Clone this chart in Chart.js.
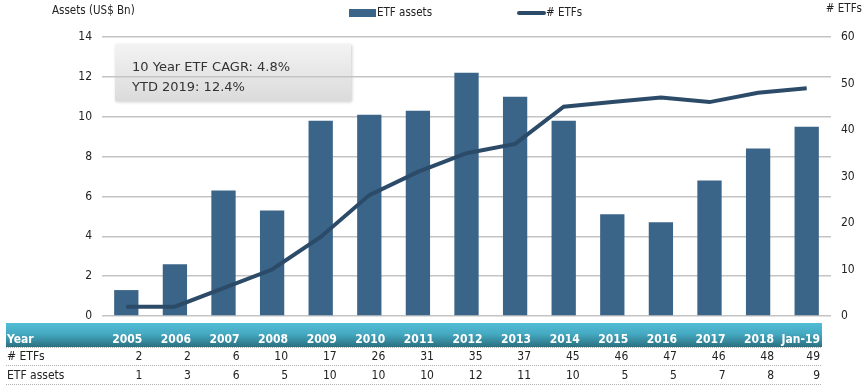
<!DOCTYPE html>
<html>
<head>
<meta charset="utf-8">
<script src="https://cdn.jsdelivr.net/npm/chart.js@4/dist/chart.umd.min.js"></script>
<style>
html,body{margin:0;padding:0;background:#fff;}
#wrap{position:relative;width:863px;height:388px;}
</style>
</head>
<body>
<div id="wrap"><canvas id="c" width="863" height="388"></canvas></div>
<script>
const years = ['2005','2006','2007','2008','2009','2010','2011','2012','2013','2014','2015','2016','2017','2018','Jan-19'];
const etfAssets = [1.3,2.6,6.3,5.3,9.8,10.1,10.3,12.2,11.0,9.8,5.1,4.7,6.8,8.4,9.5];
const numEtfs = [2,2,6,10,17,26,31,35,37,45,46,47,46,48,49];
const assetsTableRow = [1,3,6,5,10,10,10,12,11,10,5,5,7,8,9];
const annotationLines = ['10 Year ETF CAGR: 4.8%','YTD 2019: 12.4%'];
const leftAxisTitle = 'Assets (US$ Bn)';
const rightAxisTitle = '# ETFs';

const FONT = '"DejaVu Sans Condensed","DejaVu Sans",sans-serif';
const FONT_WIDE = '"DejaVu Sans",sans-serif';
const BAR = '#3a6488';
const LINE = '#2c4b69';

const decor = {
  id:'decor',
  beforeDraw(chart){
    const ctx = chart.ctx;
    ctx.save();
    const bx=115, by=44, bw=236, bh=57;
    ctx.shadowColor='rgba(0,0,0,0.2)'; ctx.shadowBlur=3; ctx.shadowOffsetX=1; ctx.shadowOffsetY=1;
    const g = ctx.createLinearGradient(0,by,0,by+bh);
    g.addColorStop(0,'#f3f3f3'); g.addColorStop(1,'#dbdbdb');
    ctx.fillStyle=g; ctx.fillRect(bx,by,bw,bh);
    ctx.restore();
    ctx.save();
    ctx.fillStyle='#333'; ctx.font='13px '+FONT_WIDE; ctx.textBaseline='middle'; ctx.textAlign='left';
    ctx.fillText(annotationLines[0],132,68);
    ctx.fillText(annotationLines[1],132,88);
    ctx.restore();
  },
  afterDraw(chart){
    const ctx = chart.ctx;
    const xs = chart.scales.x;
    ctx.save();
    ctx.fillStyle='#222'; ctx.font='11.5px '+FONT; ctx.textBaseline='middle';
    ctx.textAlign='left'; ctx.fillText(leftAxisTitle,52,11);
    ctx.textAlign='right'; ctx.fillText(rightAxisTitle,862,9);
    ctx.font='11.5px '+FONT;
    ctx.fillStyle=BAR; ctx.fillRect(349,9,27,8);
    ctx.fillStyle='#222'; ctx.textAlign='left';
    ctx.fillText('ETF assets',377,13);
    ctx.strokeStyle=LINE; ctx.lineWidth=4; ctx.lineCap='round';
    ctx.beginPath(); ctx.moveTo(519,13); ctx.lineTo(544,13); ctx.stroke();
    ctx.fillText('# ETFs',546,13);
    const tx0=6, tx1=822;
    const hg = ctx.createLinearGradient(0,323,0,347);
    hg.addColorStop(0,'#52bdd6'); hg.addColorStop(0.45,'#45aac2'); hg.addColorStop(1,'#2b6f80');
    ctx.fillStyle=hg; ctx.fillRect(tx0,323,tx1-tx0,24);
    ctx.font='bold 12px '+FONT; ctx.fillStyle='#fff'; ctx.textAlign='left';
    ctx.fillText('Year',7,340);
    ctx.textAlign='right';
    years.forEach((y,i)=>{ const cx = xs.getPixelForValue(i); ctx.fillText(y, Math.min(cx+16,820), 340); });
    ctx.font='12px '+FONT; ctx.fillStyle='#222';
    ctx.textAlign='left';
    ctx.fillText('# ETFs',7,357);
    ctx.fillText('ETF assets',7,376);
    ctx.textAlign='right';
    numEtfs.forEach((v,i)=>{ const cx = xs.getPixelForValue(i); ctx.fillText(String(v), Math.min(cx+16,820), 357); });
    assetsTableRow.forEach((v,i)=>{ const cx = xs.getPixelForValue(i); ctx.fillText(String(v), Math.min(cx+16,820), 376); });
    ctx.strokeStyle='#b0b0b0'; ctx.lineWidth=1; ctx.setLineDash([1,1]); ctx.lineCap='butt';
    [347.5,365.5,384.5].forEach(y=>{ ctx.beginPath(); ctx.moveTo(tx0,y); ctx.lineTo(tx1,y); ctx.stroke(); });
    ctx.restore();
  }
};

new Chart(document.getElementById('c'), {
  data:{
    labels: years,
    datasets:[
      {type:'line', label:'# ETFs', data:numEtfs, yAxisID:'y1', borderColor:LINE, borderWidth:4, pointRadius:0, tension:0, order:0},
      {type:'bar', label:'ETF assets', data:etfAssets, yAxisID:'y', backgroundColor:BAR, categoryPercentage:1, barPercentage:0.5, order:1}
    ]
  },
  options:{
    responsive:false, animation:false,
    layout:{padding:{top:37,bottom:72,left:0,right:0}},
    plugins:{legend:{display:false}, tooltip:{enabled:false}},
    scales:{
      x:{display:false, offset:true},
      y:{position:'left', min:0, max:14, ticks:{stepSize:2, color:'#222', font:{family:FONT,size:12}, padding:10},
         grid:{color:'#c4c4c4', lineWidth:1.5, drawTicks:false}, border:{display:false},
         afterFit(s){ s.width=102; }},
      y1:{position:'right', min:0, max:60, ticks:{stepSize:10, color:'#222', font:{family:FONT,size:12}, padding:10},
         grid:{display:false, drawTicks:false}, border:{display:false},
         afterFit(s){ s.width=32; }}
    }
  },
  plugins:[decor]
});
</script>
</body>
</html>
